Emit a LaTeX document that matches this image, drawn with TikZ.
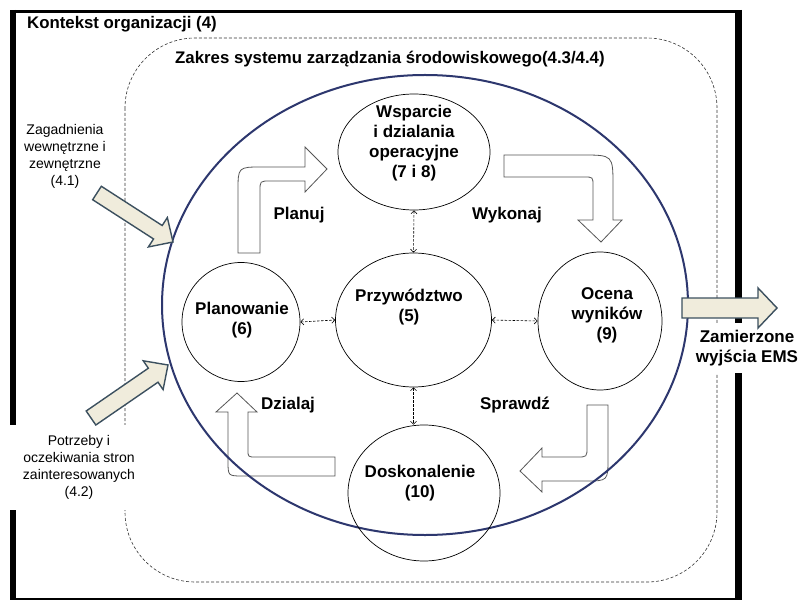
\documentclass[tikz,border=0pt]{standalone}
\usepackage{fontspec}
\setmainfont{Liberation Sans}
\usetikzlibrary{shapes.geometric,arrows.meta,calc}
\definecolor{navy}{RGB}{45,55,110}
\definecolor{inbeige}{RGB}{240,236,220}
\definecolor{inedge}{RGB}{60,80,95}
\definecolor{bagray}{RGB}{85,85,85}
\newcommand{\fatarrow}[6]{%
  \coordinate (fa-b) at ($(#3)!#6!(#2)$);
  \draw[#1] ($(#2)!#4!90:(#3)$) -- ($(fa-b)!#4!90:(#3)$) -- ($(fa-b)!#5!90:(#3)$) -- (#3)
    -- ($(fa-b)!#5!-90:(#3)$) -- ($(fa-b)!#4!-90:(#3)$) -- ($(#2)!#4!-90:(#3)$) -- cycle;}
\begin{document}
\begin{tikzpicture}[x=1pt,y=-1pt,
 lbl/.style={font=\fontsize{17}{20}\selectfont\bfseries, align=center, inner sep=0pt},
 ttl/.style={font=\fontsize{16.8}{20}\selectfont\bfseries, inner sep=0pt},
 small/.style={font=\fontsize{14}{17}\selectfont, align=center, inner sep=0pt},
 oval/.style={draw=black, line width=0.7pt, ellipse, inner sep=0pt},
 bent/.style={draw=bagray, fill=white, line width=0.8pt, line join=miter},
 fat/.style={draw=inedge, fill=inbeige, line width=1.4pt, line join=miter},
 scope/.style={draw=black!80, line width=0.6pt, dash pattern=on 3pt off 2pt, rounded corners=70pt},
 dd/.style={dash pattern=on 2.5pt off 1.5pt, line width=0.6pt, {Straight Barb[length=3pt,width=6pt]}-{Straight Barb[length=3pt,width=6pt]}}
]
\useasboundingbox (0,0) rectangle (802,601);
\fill[white] (0,0) rectangle (802,601);
% outer frame
\draw[line width=3pt] (10,11.5) -- (742,11.5);
\draw[line width=6pt] (13,10) -- (13,600);
\draw[line width=7pt] (738.5,10) -- (738.5,600);
\draw[line width=2pt] (10,599) -- (742,599);
% dashed scope
\draw[scope] (125,38) rectangle (717,582);
% titles
\node[ttl, anchor=west] (ctx) at (27,24) {Kontekst organizacji (4)};
\node[ttl, anchor=west] (ems) at (175,59) {Zakres systemu zarządzania środowiskowego(4.3/4.4)};
% bent arrows
\draw[bent] (238,253) -- (238,191) .. controls (238,167) .. (262,167) -- (305,167) -- (305,147)
  -- (327,169) -- (305,192) -- (305,181) -- (270,181) .. controls (260,181) .. (260,191) -- (260,253) -- cycle;
\draw[bent] (504,155) -- (582,155) .. controls (613,155) .. (613,186) -- (613,220) -- (622,220)
  -- (601,242) -- (578,220) -- (593,220) -- (593,186) .. controls (593,177) .. (584,177) -- (504,177) -- cycle;
\draw[bent] (335,476) -- (243,476) .. controls (228,476) .. (228,461) -- (228,412) -- (216,412)
  -- (237,393) -- (257,412) -- (248,412) -- (248,450) .. controls (248,457) .. (256,457) -- (335,457) -- cycle;
\draw[bent] (587,405) -- (608,405) -- (608,458) .. controls (608,481) .. (585,481) -- (542,481) -- (542,492)
  -- (520,471) -- (542,448) -- (542,457) -- (577,457) .. controls (587,457) .. (587,447) -- cycle;
% big ellipse
\draw[navy, line width=2pt] (425,305) ellipse [x radius=263, y radius=230];
% ovals
\node[oval, minimum width=152pt, minimum height=116pt] (wsp) at (414,152) {};
\node[oval, minimum width=156pt, minimum height=134pt] (prz) at (413.5,320) {};
\node[oval, minimum width=118pt, minimum height=119pt] (plan) at (241,322) {};
\node[oval, minimum width=124pt, minimum height=138pt] (oc) at (600,321) {};
\node[oval, minimum width=152pt, minimum height=136pt] (dos) at (424,493) {};
% oval texts
\node[lbl] (wspt) at (414,143) {Wsparcie\\i dzialania\\operacyjne\\(7 i 8)};
\node[lbl] (przt) at (409,307) {Przywództwo\\(5)};
\node[lbl] (plant) at (242,320.5) {Planowanie\\(6)};
\node[lbl] (oct) at (607,315) {Ocena\\wyników\\(9)};
\node[lbl] (dost) at (420,483.5) {Doskonalenie\\(10)};
% cycle labels
\node[lbl] (planuj) at (299,215) {Planuj};
\node[lbl] (wykonaj) at (507,215) {Wykonaj};
\node[lbl] (dzialaj) at (288,405) {Dzialaj};
\node[lbl] (sprawdz) at (515,405) {Sprawdź};
% dashed links
\draw[dd] (wsp.south) -- (prz.north);
\draw[dd] (plan.east) -- (prz.west);
\draw[dd] (prz.east) -- (oc.west);
\draw[dd] (prz.south) -- (prz.south |- dos.north);
% side texts
\node[small] (iss) at (65,156) {Zagadnienia\\wewnętrzne i\\zewnętrzne\\(4.1)};
\node[small, fill=white, minimum width=142pt, minimum height=85pt] (need) at (79,467.5) {Potrzeby i\\oczekiwania stron\\zainteresowanych\\(4.2)};
\node[lbl, fill=white, minimum width=110pt, minimum height=50pt] (out) at (747,348) {Zamierzone\\wyjścia EMS};
% fat arrows
\coordinate (in1t) at (97,193); \coordinate (in1p) at (173,242);
\coordinate (in2t) at (91,418); \coordinate (in2p) at (168,365);
\coordinate (o1t) at (682,308); \coordinate (o1p) at (777,308);
\fatarrow{fat}{in1t}{in1p}{8pt}{17.5pt}{18pt}
\fatarrow{fat}{in2t}{in2p}{8.5pt}{17.5pt}{18pt}
\fatarrow{fat}{o1t}{o1p}{10pt}{20pt}{19pt}
\end{tikzpicture}
\end{document}
